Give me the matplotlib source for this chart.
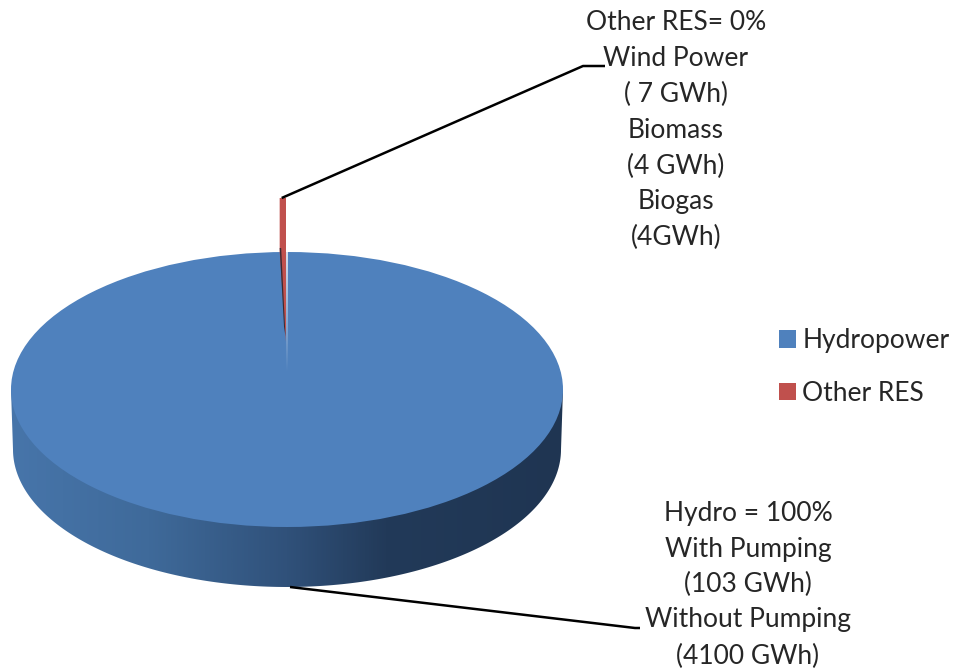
import numpy as np
import matplotlib
matplotlib.use("Agg")
import matplotlib.pyplot as plt
from matplotlib.patches import Ellipse, Polygon, Patch
from matplotlib.colors import LinearSegmentedColormap

categories = ["Hydropower", "Other RES"]
values_gwh = [4100, 15]
colors = ["#4F81BD", "#C0504D"]
hydro_label = ["Hydro = 100%", "With Pumping", "(103 GWh)", "Without Pumping", "(4100 GWh)"]
other_label = ["Other RES= 0%", "Wind Power", "( 7 GWh)", "Biomass", "(4 GWh)", "Biogas", "(4GWh)"]

W, H = 954, 670
plt.rcParams["font.family"] = ["Lato", "DejaVu Sans"]
fig = plt.figure(figsize=(W / 100, H / 100), dpi=100)
ax = fig.add_axes([0, 0, 1, 1])
ax.set_xlim(0, W)
ax.set_ylim(H, 0)
ax.axis("off")

cx, cy, rx, ry, depth = 287, 389.5, 276, 137.5, 60
theta = 2 * np.pi * values_gwh[1] / sum(values_gwh)

# side wall with horizontal shading
ts = np.linspace(0, np.pi, 200)
wall = [(cx - rx, cy)] + [(cx - (rx - 2) * np.cos(t), cy + depth + ry * np.sin(t)) for t in ts] + [(cx + rx, cy)]
wall_patch = Polygon(wall, closed=True, fc="none", ec="none", zorder=1)
ax.add_patch(wall_patch)
cmap = LinearSegmentedColormap.from_list(
    "wall", [(0, "#4775AA"), (0.25, "#3F6A9A"), (0.5, "#30517A"), (0.68, "#223A59"), (1, "#1F3552")])
img = ax.imshow(np.linspace(0, 1, 512)[None, :], cmap=cmap, extent=[cx - rx, cx + rx, cy + depth + ry, cy],
                aspect="auto", zorder=1)
img.set_clip_path(wall_patch)
ax.set_xlim(0, W)
ax.set_ylim(H, 0)

# top face
ax.add_patch(Ellipse((cx, cy), 2 * rx, 2 * ry, fc=colors[0], ec="none", zorder=2))

# gap left by the pulled-out slice
tip_y = cy - 18
top_y = cy - ry
ax.add_patch(Polygon([(cx, tip_y), (cx - 1, top_y), (cx + 1, top_y)], fc="#D5DFEC", ec="none", zorder=3))

# red slice, pulled upward
half = rx * np.sin(theta)
lift = 54
sl_left = cx - half - 1
sl_right = cx - 1
ax.add_patch(Polygon([(sl_left, top_y - lift), (sl_right, top_y - lift), (sl_right, top_y),
                      (cx - 1, tip_y - 30), (sl_left, top_y)],
                     fc=colors[1], ec="none", zorder=4))
ax.add_patch(Polygon([(sl_left, top_y - 4), (sl_left + 1.5, top_y - 4), (cx - 1.5, tip_y - 35), (cx - 3, tip_y - 45)],
                     fc="#3A2A33", ec="none", zorder=5))

# leader lines
ax.plot([sl_left + 2, 583, 605], [top_y - lift, 66, 66], color="black", lw=1.8, zorder=6, solid_capstyle="butt")
ax.plot([290, 635, 640], [587, 628, 628], color="black", lw=1.8, zorder=6, solid_capstyle="butt")

# labels
fs = 19
tc = "#262626"
other_ys = [23, 59, 94, 130, 166, 201, 237]
for s, y in zip(other_label, other_ys):
    ax.text(676, y, s, ha="center", va="center", fontsize=fs, color=tc)
hydro_ys = [513, 549, 584, 620, 656]
for s, y in zip(hydro_label, hydro_ys):
    ax.text(748, y, s, ha="center", va="center", fontsize=fs, color=tc)

# legend
handles = [Patch(fc=c, ec="none", label=n) for c, n in zip(colors, categories)]
ax.legend(handles=handles, loc="center left", bbox_to_anchor=(768 / W, 1 - 367 / H), frameon=False,
          fontsize=fs, labelcolor=tc, handlelength=0.65, handleheight=0.65, handletextpad=0.25,
          labelspacing=1.05, borderpad=0, borderaxespad=0.4)

fig.savefig("out.png", dpi=100)
